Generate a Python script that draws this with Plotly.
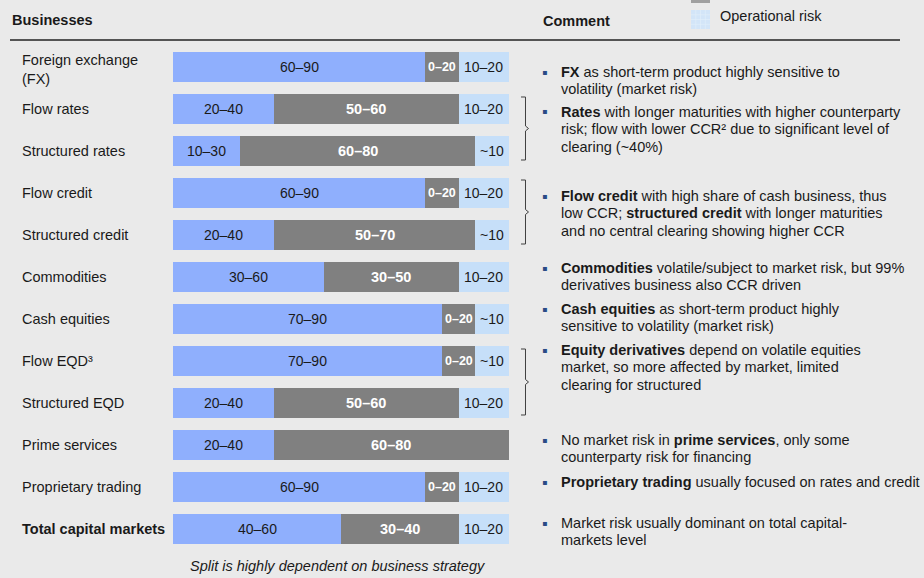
import plotly.graph_objects as go

# ---------------- data ----------------
businesses = ["Foreign exchange<br>(FX)", "Flow rates", "Structured rates", "Flow credit",
              "Structured credit", "Commodities", "Cash equities", "Flow EQD³",
              "Structured EQD", "Prime services", "Proprietary trading",
              "<b>Total capital markets</b>"]

market_labels = ["60–90", "20–40", "10–30", "60–90", "20–40", "30–60", "70–90", "70–90",
                 "20–40", "20–40", "60–90", "40–60"]
market_values = [75, 30, 20, 75, 30, 45, 80, 80, 30, 30, 75, 50]

ccr_labels = ["0–20", "50–60", "60–80", "0–20", "50–70", "30–50", "0–20", "0–20",
              "50–60", "60–80", "0–20", "30–40"]
ccr_values = [10, 55, 70, 10, 60, 40, 10, 10, 55, 70, 10, 35]

op_labels = ["10–20", "10–20", "~10", "10–20", "~10", "10–20", "~10", "~10",
             "10–20", "", "10–20", "10–20"]
op_values = [15, 15, 10, 15, 10, 15, 10, 10, 15, 0, 15, 15]

comments = [
    ["<b>FX</b> as short-term product highly sensitive to", "volatility (market risk)"],
    ["<b>Rates</b> with longer maturities with higher counterparty",
     "risk; flow with lower CCR² due to significant level of", "clearing (~40%)"],
    ["<b>Flow credit</b> with high share of cash business, thus",
     "low CCR; <b>structured credit</b> with longer maturities",
     "and no central clearing showing higher CCR"],
    ["<b>Commodities</b> volatile/subject to market risk, but 99%",
     "derivatives business also CCR driven"],
    ["<b>Cash equities</b> as short-term product highly",
     "sensitive to volatility (market risk)"],
    ["<b>Equity derivatives</b> depend on volatile equities",
     "market, so more affected by market, limited", "clearing for structured"],
    ["No market risk in <b>prime services</b>, only some", "counterparty risk for financing"],
    ["<b>Proprietary trading</b> usually focused on rates and credit"],
    ["Market risk usually dominant on total capital-", "markets level"],
]

# ---------------- layout helpers ----------------
W, H = 924, 578
FONT = "Liberation Sans, Arial, sans-serif"
BG = "#EAEAEA"
BLUE = "#8FAFFD"
GRAY = "#808080"
LIGHT = "#C6DFF9"
TXT = "#1A1A1A"


def px(x):
    return x / W


def py(y):
    return 1 - y / H


rows = list(range(len(businesses)))
pitch = 42.0
first_center = 67.0

fig = go.Figure()
common = dict(orientation="h", y=rows, width=30 / pitch, hoverinfo="skip", marker_line_width=0)
fig.add_trace(go.Bar(x=market_values, marker_color=BLUE, name="Market risk", **common))
fig.add_trace(go.Bar(x=ccr_values, marker_color=GRAY, name="Counterparty risk", **common))
fig.add_trace(go.Bar(x=op_values, marker_color=LIGHT, name="Operational risk", **common))

annotations = []
shapes = []

# segment labels, placed at the middle of each stacked segment (data coordinates)
for i in rows:
    m, c, o = market_values[i], ccr_values[i], op_values[i]
    annotations.append(dict(x=m / 2, y=i, xref="x", yref="y", text=market_labels[i],
                            showarrow=False, font=dict(family=FONT, size=14, color=TXT)))
    small = c <= 10
    annotations.append(dict(x=m + c / 2, y=i, xref="x", yref="y", text=f"<b>{ccr_labels[i]}</b>",
                            showarrow=False,
                            font=dict(family=FONT, size=12.5 if small else 14.5, color="white")))
    if o > 0:
        annotations.append(dict(x=m + c + o / 2, y=i, xref="x", yref="y", text=op_labels[i],
                                showarrow=False, font=dict(family=FONT, size=14, color=TXT)))

# row labels
for i, b in enumerate(businesses):
    annotations.append(dict(x=px(20), xref="paper", y=i + (0.05 if "<br>" in b else 0), yref="y",
                            text=b, showarrow=False, xanchor="left", yanchor="middle", align="left",
                            font=dict(family=FONT, size=14.5, color=TXT)))

# headers
annotations.append(dict(x=px(10), y=py(20), xref="paper", yref="paper", text="<b>Businesses</b>",
                        showarrow=False, xanchor="left", yanchor="middle",
                        font=dict(family=FONT, size=14.5, color=TXT)))
annotations.append(dict(x=px(541), y=py(21), xref="paper", yref="paper", text="<b>Comment</b>",
                        showarrow=False, xanchor="left", yanchor="middle",
                        font=dict(family=FONT, size=14.5, color=TXT)))
shapes.append(dict(type="line", xref="paper", yref="paper", x0=px(10), x1=px(900),
                   y0=py(40), y1=py(40), line=dict(color="#222222", width=1.5)))

# legend (partially visible at top)
shapes.append(dict(type="rect", xref="paper", yref="paper", x0=px(691), x1=px(710),
                   y0=py(3), y1=py(-17), fillcolor="#A0A0A0", line_width=0))
shapes.append(dict(type="rect", xref="paper", yref="paper", x0=px(691), x1=px(710),
                   y0=py(29), y1=py(10), fillcolor="#D3E5F8", line_width=0))
for k in range(1, 4):
    xx = 691 + k * 19 / 4
    shapes.append(dict(type="line", xref="paper", yref="paper", x0=px(xx), x1=px(xx),
                       y0=py(29), y1=py(10), line=dict(color="#E2EEFA", width=0.6)))
    yy = 10 + k * 19 / 4
    shapes.append(dict(type="line", xref="paper", yref="paper", x0=px(691), x1=px(710),
                       y0=py(yy), y1=py(yy), line=dict(color="#E2EEFA", width=0.6)))
annotations.append(dict(x=px(718), y=py(16), xref="paper", yref="paper", text="Operational risk",
                        showarrow=False, xanchor="left", yanchor="middle",
                        font=dict(family=FONT, size=14.5, color=TXT)))

# braces
for top, bot in [(97, 160), (180, 244), (349, 415)]:
    mid = (top + bot) / 2
    pts = [(521, top), (525.5, top), (525.5, mid - 2.5), (528.5, mid), (525.5, mid + 2.5),
           (525.5, bot), (521, bot)]
    path = "M " + " L ".join(f"{px(a):.5f},{py(b):.5f}" for a, b in pts)
    shapes.append(dict(type="path", xref="paper", yref="paper", path=path,
                       line=dict(color="#404040", width=1)))

# comments
comment_y = [72, 112, 196, 268, 309, 350, 440, 482, 523]
for lines, y0 in zip(comments, comment_y):
    annotations.append(dict(x=px(540), y=py(y0), xref="paper", yref="paper", text="▪",
                            showarrow=False, xanchor="left", yanchor="middle",
                            font=dict(family="DejaVu Sans", size=8, color="#2A4A86")))
    for j, line in enumerate(lines):
        annotations.append(dict(x=px(559), y=py(y0 + 17.3 * j), xref="paper", yref="paper",
                                text=line, showarrow=False, xanchor="left", yanchor="middle",
                                font=dict(family=FONT, size=14.5, color=TXT)))

# footer
annotations.append(dict(x=px(337), y=py(566), xref="paper", yref="paper",
                        text="<i>Split is highly dependent on business strategy</i>",
                        showarrow=False, xanchor="center", yanchor="middle",
                        font=dict(family=FONT, size=14.5, color=TXT)))

fig.update_layout(
    width=W, height=H, margin=dict(l=0, r=0, t=0, b=0),
    paper_bgcolor=BG, plot_bgcolor=BG, barmode="stack", showlegend=False,
    bargap=0,
    xaxis=dict(domain=[px(173), px(509)], range=[0, 100], visible=False, fixedrange=True),
    yaxis=dict(range=[(H - first_center) / pitch, -first_center / pitch], visible=False,
               fixedrange=True),
    annotations=annotations, shapes=shapes,
)

fig.write_html("out.html", config={"displayModeBar": False},
               post_script="document.body.style.margin='0';document.body.style.background='#EAEAEA';")
